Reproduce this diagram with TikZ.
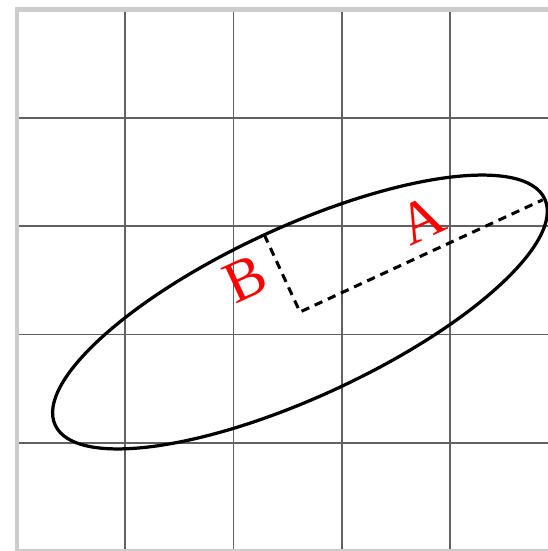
\documentclass[tikz,border=0pt]{standalone}
\usepackage{fontspec}
\newfontfamily\labelfont{Liberation Serif}
\usetikzlibrary{calc}
\tikzset{
  gridline/.style={draw=black!62, line width=0.45pt},
  borderline/.style={draw=gray!40, line width=1.1pt},
  curve/.style={draw=black, line width=0.85pt},
  axisline/.style={draw=black, line width=0.8pt, dash pattern=on 2.2pt off 1.6pt},
  axislabel/.style={text=red, font=\labelfont\fontsize{15.5}{18}\selectfont, inner sep=0pt, rotate=24.8}
}
\begin{document}
\begin{tikzpicture}[x=1cm,y=1cm]
\useasboundingbox (-0.157,0) rectangle (4.903,5.088);
\clip (-0.157,0) rectangle (4.903,5.088);
% grid
\foreach \i in {1,2,3,4} {
  \draw[gridline] (\i,0) -- (\i,5);
  \draw[gridline] (0,\i) -- (5,\i);
}
\draw[borderline] (0,0) -- (0,5) -- (5,5);
\draw[borderline] (0,0) -- (5,0);
% ellipse
\coordinate (O) at (2.613,2.207);
\coordinate (Aend) at ($(O)+(24.8:2.47)$);
\coordinate (Bend) at ($(O)+(114.8:0.785)$);
\draw[curve, rotate around={24.8:(O)}] (O) ellipse [x radius=2.49, y radius=0.785];
\draw[axisline] (Bend) -- (O) -- (Aend);
\node[axislabel] (A) at (3.74,3.056) {A};
\node[axislabel] (B) at (2.105,2.51) {B};
\end{tikzpicture}
\end{document}
